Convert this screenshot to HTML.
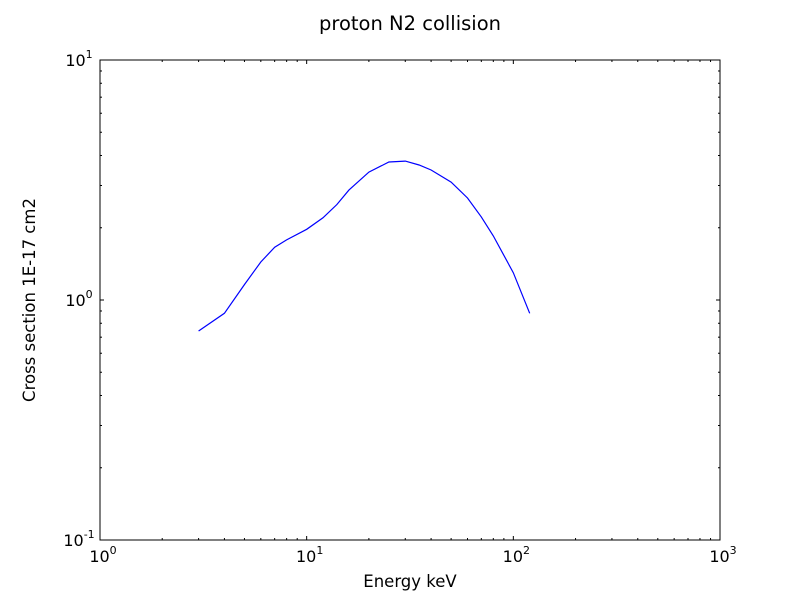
<!DOCTYPE html>
<html><head><meta charset="utf-8"><style>
body{margin:0;background:#fff;}
svg text{font-family:"DejaVu Sans","Liberation Sans",sans-serif;fill:#000;}
</style></head><body>
<svg id="chart" width="800" height="600">
<rect width="800" height="600" fill="#fff"/>
<text x="410" y="30" font-size="19.5" text-anchor="middle">proton N2 collision</text>
<text x="410" y="587" font-size="16.5" text-anchor="middle">Energy keV</text>
<text transform="translate(35,300) rotate(-90)" font-size="16.5" text-anchor="middle">Cross section 1E-17 cm2</text>
<g id="ticks"></g>
<g id="labels"></g>
<path id="series" fill="none" stroke="#0000ff" stroke-width="1.2"/>
<rect x="100" y="60" width="620" height="480" fill="none" stroke="#000" stroke-width="1"/>
</svg>
<script>
const energies=[3,4,5,6,7,8,10,12,14,16,20,25,30,35,40,50,60,70,80,100,120];
const crossSections=[0.743,0.88,1.16,1.44,1.66,1.78,1.97,2.2,2.5,2.87,3.41,3.76,3.79,3.65,3.48,3.10,2.66,2.22,1.85,1.30,0.88];
const xDecades=[0,1,2,3];
const yDecades=[-1,0,1];
const L=100,R=720,T=60,B=540;
function xs(v){return L+(Math.log10(v)-0)/3*(R-L);}
function ys(v){return B-(Math.log10(v)+1)/2*(B-T);}
const NS="http://www.w3.org/2000/svg";
const tg=document.getElementById('ticks'),lg=document.getElementById('labels');
function line(x1,y1,x2,y2){const l=document.createElementNS(NS,'line');l.setAttribute('x1',x1);l.setAttribute('y1',y1);l.setAttribute('x2',x2);l.setAttribute('y2',y2);l.setAttribute('stroke','#000');l.setAttribute('stroke-width','1');


tg.appendChild(l);}
function label(x,y,e,anchor,name){const t=document.createElementNS(NS,'text');t.setAttribute('x',x);t.setAttribute('y',y);t.setAttribute('font-size','16');t.setAttribute('text-anchor',anchor);
t.innerHTML='10<tspan font-size="11" dy="-8">'+e+'</tspan>';


lg.appendChild(t);}
xDecades.forEach(d=>{const x=xs(Math.pow(10,d));line(x,B,x,B-4);line(x,T,x,T+4);label(x+3,B+22,d,'middle','x-tick-label');
if(d<3)for(let m=2;m<10;m++){const xm=xs(m*Math.pow(10,d));line(xm,B,xm,B-2);line(xm,T,xm,T+2);}});
yDecades.forEach(d=>{const y=ys(Math.pow(10,d));line(L,y,L+4,y);line(R,y,R-4,y);label(L-21,y+6,d,'middle','y-tick-label');
if(d<1)for(let m=2;m<10;m++){const ym=ys(m*Math.pow(10,d));line(L,ym,L+2,ym);line(R,ym,R-2,ym);}});
document.getElementById('series').setAttribute('d',energies.map((e,i)=>(i?'L':'M')+xs(e).toFixed(1)+','+ys(crossSections[i]).toFixed(1)).join(''));
</script>
</body></html>
